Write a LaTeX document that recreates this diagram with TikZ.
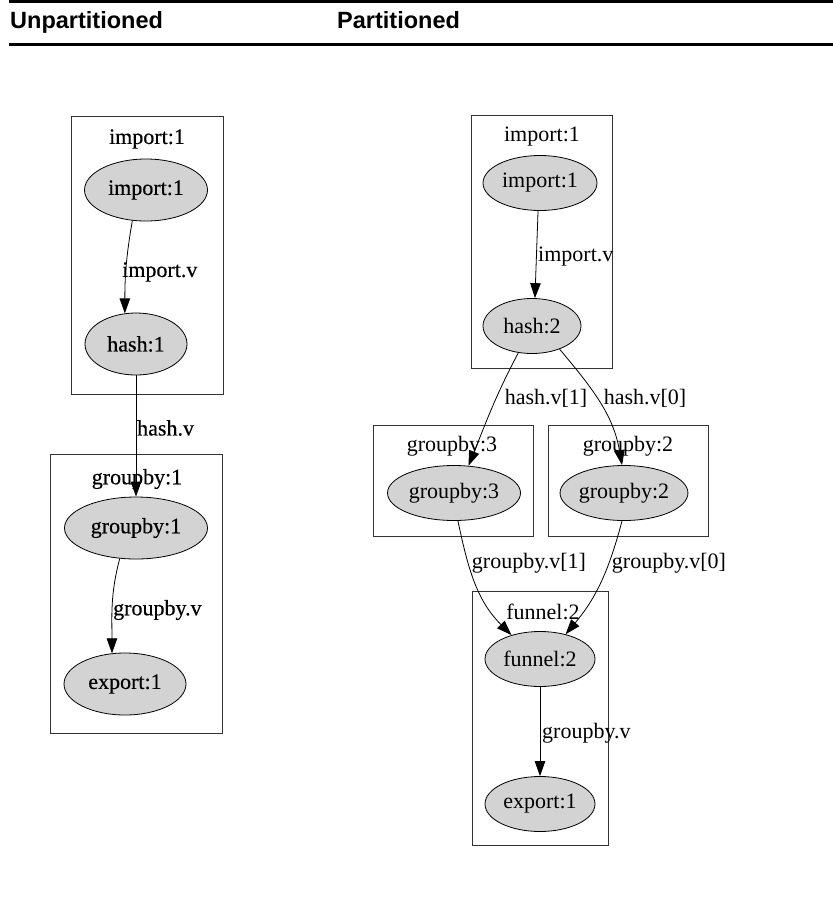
\documentclass[tikz,border=0pt]{standalone}
\usepackage{fontspec}
\setmainfont{Liberation Serif}
\newfontfamily\headfont{Liberation Sans}
\newfontfamily\heavyserif[FakeBold=0.4]{Liberation Serif}
\usetikzlibrary{shapes.geometric,arrows.meta}
\definecolor{opgray}{HTML}{D3D3D3}

\begin{document}
\begin{tikzpicture}[x=1pt,y=1pt,inner sep=0pt,
    op node/.style={ellipse,draw,line width=0.8pt,fill=opgray,minimum height=55pt,
                    font=\fontsize{22}{26}\selectfont},
    uop node/.style={op node,minimum height=62pt,font=\heavyserif\fontsize{22}{26}\selectfont},
    part box/.style={draw=black!80,line width=1pt},
    box title/.style={font=\fontsize{22}{26}\selectfont},
    ubox title/.style={font=\heavyserif\fontsize{22}{26}\selectfont},
    flow/.style={line width=0.8pt,-{Triangle[length=15pt,width=10.5pt]}},
    head/.style={anchor=base west,font=\headfont\bfseries\fontsize{23.5}{28}\selectfont}]
  \useasboundingbox (0,0) rectangle (833,-898);

  \draw[line width=2.7pt] (9,-1.35) -- (833,-1.35);
  \draw[line width=2.7pt] (9,-44.7) -- (833,-44.7);
  \node[head] (hunpart) at (10,-28.3) {Unpartitioned};
  \node[head] (hpart) at (337,-28.3) {Partitioned};

  \node[part box,minimum width=152pt,minimum height=278pt] (ubox1) at (147,-255) {};
  \node[part box,minimum width=172pt,minimum height=279pt] (ubox2) at (136,-593.5) {};
  \node[ubox title] (ut1) at (147,-139) {import:1};
  \node[ubox title] (ut2) at (137,-479) {groupby:1};

  \node[uop node,minimum width=123pt] (uimp) at (146,-190) {import:1};
  \node[uop node,minimum width=102pt] (uhash) at (136,-344) {hash:1};
  \node[uop node,minimum width=143pt] (ugrp) at (136,-528) {groupby:1};
  \node[uop node,minimum width=122pt] (uexp) at (125,-684) {export:1};

  \draw[flow] (uimp.-114) to[out=-100,in=90] (uhash.110);
  \draw[flow] (uhash.south) -- (ugrp.north);
  \draw[flow] (ugrp.-118) to[out=-105,in=90] (uexp.113);

  \node[ubox title,anchor=west] (ul1) at (122,-272) {import.v};
  \node[ubox title,anchor=west] (ul2) at (137,-428) {hash.v};
  \node[ubox title,anchor=west] (ul3) at (113,-610) {groupby.v};

  \node[part box,minimum width=141pt,minimum height=253pt] (pbox1) at (541.5,-241.5) {};
  \node[part box,minimum width=160pt,minimum height=111pt] (pbox3) at (453,-480.5) {};
  \node[part box,minimum width=160pt,minimum height=111pt] (pbox2) at (628,-480.5) {};
  \node[part box,minimum width=136pt,minimum height=254pt] (pbox4) at (540,-718) {};
  \node[box title] (pt1) at (542,-137) {import:1};
  \node[box title] (pt3) at (452,-446) {groupby:3};
  \node[box title] (pt2) at (628,-446) {groupby:2};
  \node[box title] (pt4) at (543,-612) {funnel:2};

  \node[op node,minimum width=114pt] (pimp) at (540,-183) {import:1};
  \node[op node,minimum width=98pt] (phash) at (532,-326) {hash:2};
  \node[op node,minimum width=133pt] (pgrp3) at (454,-493) {groupby:3};
  \node[op node,minimum width=123pt] (pgrp2) at (624,-493) {groupby:2};
  \node[op node,minimum width=110pt] (pfun) at (540,-659) {funnel:2};
  \node[op node,minimum width=110pt] (pexp) at (540,-804) {export:1};

  \draw[flow] (pimp.-94) -- (phash.84);
  \draw[flow] (phash.-117) to[out=-118,in=68] (pgrp3.62);
  \draw[flow] (phash.-40) to[out=-50,in=100] (pgrp2.94);
  \draw[flow] (pgrp3.-82) to[out=-78,in=135] (pfun.140);
  \draw[flow] (pgrp2.-94) to[out=-105,in=50] (pfun.44);
  \draw[flow] (pfun.south) -- (pexp.north);

  \node[box title,anchor=west] (pl1) at (538,-257) {import.v};
  \node[box title] (pl2) at (546,-398) {hash.v[1]};
  \node[box title] (pl3) at (645,-398) {hash.v[0]};
  \node[box title] (pl4) at (529,-563) {groupby.v[1]};
  \node[box title] (pl5) at (669,-563) {groupby.v[0]};
  \node[box title,anchor=west] (pl6) at (542,-733) {groupby.v};
\end{tikzpicture}
\end{document}
